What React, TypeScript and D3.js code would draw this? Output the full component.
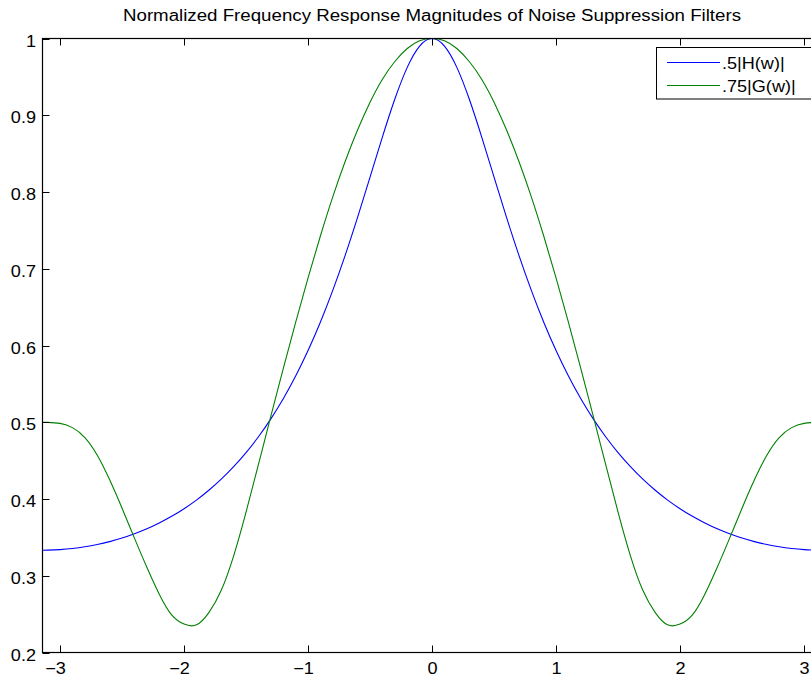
import React, { useEffect, useRef } from 'react';
import * as d3 from 'd3';

// frequency samples (rad)
const omega = [
  -3.1416, -3.1, -3.0, -2.9, -2.8, -2.7, -2.6, -2.5, -2.4, -2.3, -2.2, -2.1, -2.0, -1.9, -1.8, -1.7,
  -1.6, -1.5, -1.4, -1.3, -1.2, -1.1, -1.0, -0.9, -0.8, -0.7, -0.6, -0.5, -0.4, -0.3, -0.2, -0.1,
  0,
  0.1, 0.2, 0.3, 0.4, 0.5, 0.6, 0.7, 0.8, 0.9, 1.0, 1.1, 1.2, 1.3, 1.4, 1.5, 1.6,
  1.7, 1.8, 1.9, 2.0, 2.1, 2.2, 2.3, 2.4, 2.5, 2.6, 2.7, 2.8, 2.9, 3.0, 3.1, 3.1416,
];

// .5|H(w)|
const hMag = [
  0.3333, 0.3334, 0.3341, 0.3355, 0.3377, 0.3407, 0.3445, 0.3491, 0.3547, 0.3612, 0.3688, 0.3774, 0.3874, 0.3986, 0.4114, 0.4258,
  0.4421, 0.4604, 0.4811, 0.5044, 0.5307, 0.5603, 0.5935, 0.6307, 0.6722, 0.7178, 0.7673, 0.8193, 0.8718, 0.9211, 0.9624, 0.9901,
  1.0,
  0.9901, 0.9624, 0.9211, 0.8718, 0.8193, 0.7673, 0.7178, 0.6722, 0.6307, 0.5935, 0.5603, 0.5307, 0.5044, 0.4811, 0.4604, 0.4421,
  0.4258, 0.4114, 0.3986, 0.3874, 0.3774, 0.3688, 0.3612, 0.3547, 0.3491, 0.3445, 0.3407, 0.3377, 0.3355, 0.3341, 0.3334, 0.3333,
];

// .75|G(w)|
const gMag = [
  0.500, 0.4999, 0.4985, 0.493, 0.480, 0.457, 0.425, 0.388, 0.349, 0.311, 0.276, 0.249, 0.237, 0.236, 0.252, 0.281,
  0.326, 0.383, 0.445, 0.508, 0.570, 0.630, 0.688, 0.743, 0.794, 0.840, 0.881, 0.917, 0.947, 0.970, 0.987, 0.997,
  1.000,
  0.997, 0.987, 0.970, 0.947, 0.917, 0.881, 0.840, 0.794, 0.743, 0.688, 0.630, 0.570, 0.508, 0.445, 0.383, 0.326,
  0.281, 0.252, 0.236, 0.237, 0.249, 0.276, 0.311, 0.349, 0.388, 0.425, 0.457, 0.480, 0.493, 0.4985, 0.4999, 0.500,
];

const seriesNames = ['.5|H(w)|', '.75|G(w)|'];
const seriesColors = ['#0000ff', '#008000'];
const xTicks = [-3, -2, -1, 0, 1, 2, 3];
const yTicks = [0.2, 0.3, 0.4, 0.5, 0.6, 0.7, 0.8, 0.9, 1];
const title = 'Normalized Frequency Response Magnitudes of Noise Suppression Filters';

const App = () => {
  const svgRef = useRef<SVGSVGElement>(null);
  const width = 811;
  const height = 677;

  useEffect(() => {
    const svg = d3.select(svgRef.current);
    svg.selectAll('*').remove();

    const left = 42.5, right = 821.6, top = 38.5, bottom = 652.5;
    const x = d3.scaleLinear().domain([-Math.PI, Math.PI]).range([left, right]);
    const y = d3.scaleLinear().domain([0.2, 1]).range([bottom, top]);
    const font = 'Liberation Sans, Arial, Helvetica, sans-serif';
    const sx = 1.13; // reference text is a bit wide

    svg.append('rect').attr('width', width).attr('height', height).attr('fill', '#fff');

    svg.append('text')
      .attr('x', 432).attr('y', 21)
      .attr('text-anchor', 'middle')
      .attr('font-family', font).attr('font-size', 16)
      .attr('textLength', 618).attr('lengthAdjust', 'spacingAndGlyphs')
      .text(title);

    svg.append('defs').append('clipPath').attr('id', 'plotclip')
      .append('rect').attr('x', left).attr('y', top).attr('width', right - left).attr('height', bottom - top);

    const line = d3.line<number>()
      .x((_, i) => x(omega[i]))
      .curve(d3.curveNatural);

    [hMag, gMag].forEach((vals, k) => {
      svg.append('path')
        .attr('clip-path', 'url(#plotclip)')
        .attr('d', line.y(d => y(d))(vals))
        .attr('fill', 'none')
        .attr('stroke', seriesColors[k])
        .attr('stroke-width', 1.1);
    });

    // axes box
    const ax = svg.append('g').attr('stroke', '#000').attr('stroke-width', 1.2).attr('fill', 'none');
    ax.append('rect').attr('x', left).attr('y', top).attr('width', right - left).attr('height', bottom - top);

    const tickLen = 7;
    xTicks.forEach(t => {
      const px = Math.round(x(t)) + 0.5;
      ax.append('line').attr('x1', px).attr('x2', px).attr('y1', bottom).attr('y2', bottom - tickLen).attr('stroke-width', 1);
      ax.append('line').attr('x1', px).attr('x2', px).attr('y1', top).attr('y2', top + tickLen).attr('stroke-width', 1);
      svg.append('text')
        .attr('transform', `translate(${px + (t < 0 ? -5 : 0)},673.5) scale(${sx},1)`)
        .attr('text-anchor', 'middle')
        .attr('font-family', font).attr('font-size', 16)
        .text(t < 0 ? '\u2212' + Math.abs(t) : String(t));
    });

    yTicks.forEach(t => {
      const py = Math.round(y(t)) + 0.5;
      ax.append('line').attr('x1', left).attr('x2', left + tickLen).attr('y1', py).attr('y2', py).attr('stroke-width', 1);
      ax.append('line').attr('x1', right).attr('x2', right - tickLen).attr('y1', py).attr('y2', py).attr('stroke-width', 1);
      svg.append('text')
        .attr('transform', `translate(36,${py + 7}) scale(${sx},1)`)
        .attr('text-anchor', 'end')
        .attr('font-family', font).attr('font-size', 16)
        .text(d3.format('~g')(t));
    });

    // legend
    const lg = svg.append('g');
    lg.append('rect')
      .attr('x', 656.5).attr('y', 47.5).attr('width', 170).attr('height', 51.5)
      .attr('fill', '#fff').attr('stroke', '#000').attr('stroke-width', 1);
    seriesNames.forEach((name, i) => {
      const ly = 62.5 + i * 23;
      lg.append('line')
        .attr('x1', 667).attr('x2', 720).attr('y1', ly).attr('y2', ly)
        .attr('stroke', seriesColors[i]).attr('stroke-width', 1.1);
      lg.append('text')
        .attr('transform', `translate(722,${ly + 6}) scale(${sx},1)`)
        .attr('font-family', font).attr('font-size', 16)
        .text(name);
    });
  }, []);

  return (
    <svg ref={svgRef} width={width} height={height}
      style={{ position: 'absolute', left: 0, top: 0 }}></svg>
  );
};

export default App;
